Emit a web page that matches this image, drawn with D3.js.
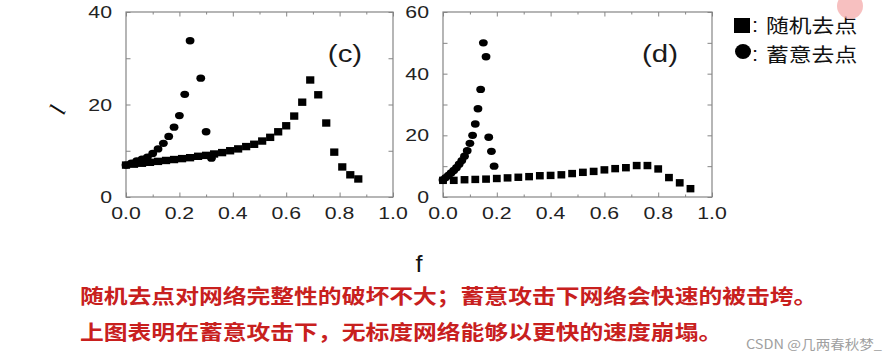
<!DOCTYPE html>
<html><head><meta charset="utf-8">
<script src="https://cdn.jsdelivr.net/npm/d3@7"></script>
<style>
html,body{margin:0;padding:0;background:#fff;}
svg{display:block;}
</style>
</head><body>
<svg id="chart" width="889" height="360"></svg>
<script>
// ---------- data ----------
const cRandF = [0,0.03,0.06,0.09,0.12,0.15,0.18,0.21,0.24,0.27,0.30,0.33,0.36,0.39,0.42,0.45,0.48,0.51,0.54,0.57,0.60,0.63,0.66,0.69,0.72,0.75,0.78,0.81,0.84,0.87];
const cRandL = [6.9,7.1,7.3,7.5,7.7,7.9,8.1,8.3,8.5,8.8,9.0,9.3,9.6,10.0,10.4,10.9,11.4,12.1,12.9,14.1,15.4,17.5,20.5,25.3,22.1,16.0,9.7,6.5,4.8,3.9];
const cAttF = [0,0.02,0.04,0.06,0.08,0.10,0.12,0.14,0.16,0.18,0.20,0.22,0.24,0.28,0.30,0.32];
const cAttL = [6.9,7.3,7.8,8.2,8.6,9.4,10.4,11.6,13.1,15.1,17.6,22.2,33.8,25.7,14.1,8.4];
const dRandF = [0,0.04,0.08,0.12,0.16,0.20,0.24,0.28,0.32,0.36,0.40,0.44,0.48,0.52,0.56,0.60,0.64,0.68,0.72,0.76,0.80,0.84,0.88,0.92];
const dRandL = [5.4,5.4,5.6,5.7,5.8,6.0,6.2,6.4,6.6,6.9,7.0,7.2,7.6,8.0,8.3,8.8,9.2,9.5,10.2,10.2,9.1,6.3,4.6,2.7];
const dAttF = [0,0.01,0.02,0.03,0.04,0.05,0.06,0.07,0.08,0.09,0.10,0.11,0.12,0.13,0.14,0.15,0.16,0.17,0.18,0.19];
const dAttL = [5.5,6.3,7.0,7.8,8.6,9.5,10.6,11.8,13.2,15.0,17.4,20.0,23.7,28.6,34.9,50.0,45.5,19.4,14.8,10.0];

const xMajor = [0,0.2,0.4,0.6,0.8,1.0];
const xMinor = [0.1,0.3,0.5,0.7,0.9];
const cYMajor = [0,20,40], cYMinor = [10,30];
const dYMajor = [0,20,40,60], dYMinor = [10,30,50];
const legendLabels = ["随机去点","蓄意去点"];
const note1 = "随机去点对网络完整性的破坏不大；蓄意攻击下网络会快速的被击垮。";
const note2 = "上图表明在蓄意攻击下，无标度网络能够以更快的速度崩塌。";
const watermark = "CSDN @几两春秋梦_";

// ---------- drawing ----------
const svg = d3.select("#chart");
const SX = 1.25; // horizontal stretch of the original picture
const AX = "#858585";

function txt(x, y, s, o) {
  o = o || {};
  return svg.append("text")
    .attr("transform", `translate(${x},${y}) scale(${o.sx||SX},1)` + (o.rot ? ` rotate(${o.rot})` : ""))
    .attr("text-anchor", o.anchor || "start")
    .attr("font-family", o.family || "'Liberation Sans', Arial, sans-serif")
    .attr("font-size", o.size || 17)
    .attr("font-weight", o.weight || "normal")
    .attr("font-style", o.style || "normal")
    .attr("fill", o.fill || "#222")
    .text(s);
}

function panel(cfg) {
  const x = d3.scaleLinear().domain([0,1]).range([cfg.left, cfg.right]);
  const y = d3.scaleLinear().domain([0,cfg.ymax]).range([197, 12]);
  const g = svg.append("g");
  const h = y(0) - y(cfg.ymax);
  const mk = (axisFn, scale, vals, size, tr) => {
    const a = g.append("g").attr("transform", tr)
      .call(axisFn(scale).tickValues(vals).tickSize(size).tickFormat(""));
    a.select(".domain").remove();
    a.selectAll("line").attr("stroke", AX).attr("stroke-width", 1);
  };
  mk(d3.axisBottom, x, xMajor, -4.5, `translate(0,${y(0)})`);
  mk(d3.axisBottom, x, xMinor, -2.5, `translate(0,${y(0)})`);
  mk(d3.axisTop, x, xMajor, -4.5, `translate(0,${y(cfg.ymax)})`);
  mk(d3.axisTop, x, xMinor, -2.5, `translate(0,${y(cfg.ymax)})`);
  mk(d3.axisLeft, y, cfg.yMajor.concat(cfg.yMinor), -4.5, `translate(${x(0)},0)`);
  mk(d3.axisRight, y, cfg.yMajor.concat(cfg.yMinor), -4.5, `translate(${x(1)},0)`);
  g.append("rect").attr("x", x(0)).attr("y", y(cfg.ymax)).attr("width", x(1)-x(0)).attr("height", h)
    .attr("fill", "none").attr("stroke", AX).attr("stroke-width", 1.2);
  xMajor.forEach(v => txt(x(v), 219, d3.format(".1f")(v), {anchor:"middle"}));
  cfg.yMajor.forEach(v => txt(x(0) - 14, y(v) + 6, String(v), {anchor:"end"}));
  const m = svg.append("g");
  m.selectAll("rect.sq").data(cfg.randF.map((f,i)=>[f,cfg.randL[i]])).join("rect")
    .attr("x", d => x(d[0]) - cfg.sqW/2).attr("y", d => y(d[1]) - 3.7)
    .attr("width", cfg.sqW).attr("height", 7.4).attr("fill", "#000");
  m.selectAll("ellipse").data(cfg.attF.map((f,i)=>[f,cfg.attL[i]])).join("ellipse")
    .attr("cx", d => x(d[0])).attr("cy", d => y(d[1]))
    .attr("rx", 4.4).attr("ry", 3.7).attr("fill", "#000");
  txt(cfg.labX, 62, cfg.label, {size:23, anchor:"middle", fill:"#1a1a1a", sx:1.28});
}

panel({left:126, right:393, ymax:40, yMajor:cYMajor, yMinor:cYMinor,
  randF:cRandF, randL:cRandL, attF:cAttF, attL:cAttL, sqW:8.2, label:"(c)", labX:345});
panel({left:443, right:712, ymax:60, yMajor:dYMajor, yMinor:dYMinor,
  randF:dRandF, randL:dRandL, attF:dAttF, attL:dAttL, sqW:7.8, label:"(d)", labX:660});

// axis titles
txt(65, 113, "l", {family:"'Liberation Serif', 'Times New Roman', serif", style:"italic", size:24, anchor:"middle", rot:-68, fill:"#111", sx:1});
txt(419, 272, "f", {size:23, anchor:"middle", fill:"#111", sx:1.1});

// legend
svg.append("rect").attr("x", 734).attr("y", 18).attr("width", 16).attr("height", 15).attr("fill", "#000");
svg.append("ellipse").attr("cx", 743).attr("cy", 51.5).attr("rx", 8).attr("ry", 7.5).attr("fill", "#000");
const cjk = "'Noto Sans CJK SC', 'Noto Sans', sans-serif";
legendLabels.forEach((s, i) => {
  txt(752, 32 + i*29, ":", {size:20, fill:"#111", sx:1.1});
  txt(766, 33 + i*29, s, {family:cjk, size:19.5, fill:"#111", sx:1.17});
});

// notes
txt(80, 304, note1, {family:cjk, size:20, weight:"bold", fill:"#c8201e", sx:1.19});
txt(80, 340, note2, {family:cjk, size:20, weight:"bold", fill:"#c8201e", sx:1.19});
txt(882, 349, watermark, {family:cjk, size:13, fill:"#a0a0a0", anchor:"end", sx:1.12});

// cursor highlight artifact
svg.append("circle").attr("cx", 850).attr("cy", 6).attr("r", 13).attr("fill", "#f3a5a5").attr("opacity", 0.7);
</script>
</body></html>
